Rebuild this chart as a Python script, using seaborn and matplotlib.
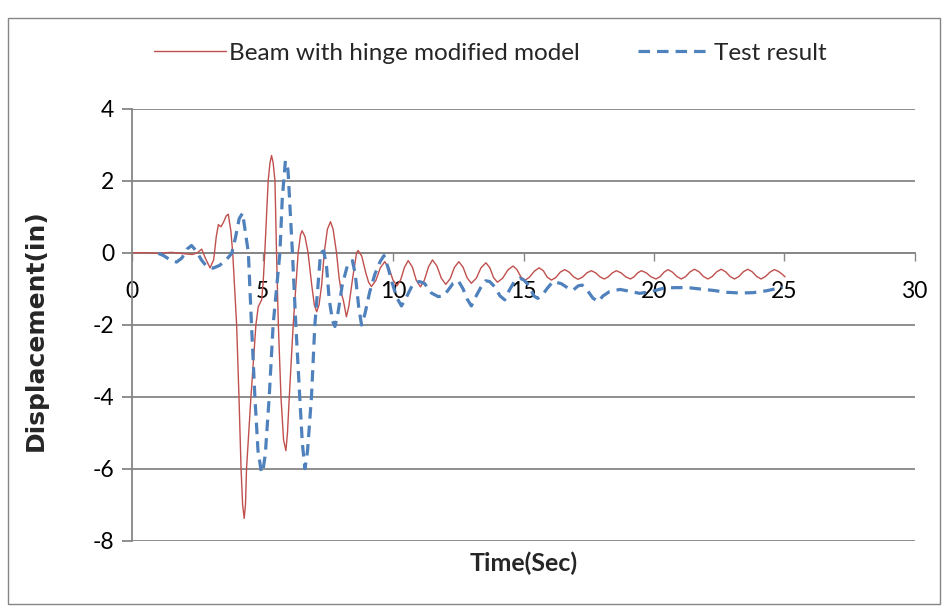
import matplotlib
matplotlib.use("Agg")
import matplotlib.pyplot as plt
import matplotlib.patches as mpatches
import seaborn as sns
import pandas as pd

# ---- data ----
red_t = [0.0, 0.5, 1.0, 1.5, 2.0, 2.3, 2.5, 2.66, 2.8, 2.98, 3.12, 3.22, 3.30, 3.40, 3.50, 3.60,
         3.68, 3.78, 3.85, 4.0, 4.09, 4.17, 4.23, 4.29, 4.34, 4.38, 4.55, 4.74, 4.83, 4.96, 5.02,
         5.08, 5.21, 5.28, 5.34, 5.40, 5.47, 5.53, 5.6, 5.70, 5.8, 5.89, 5.95, 6.02, 6.17, 6.36,
         6.45, 6.51, 6.62, 6.74, 6.88, 6.98, 7.07, 7.16, 7.26, 7.36, 7.48, 7.6, 7.7, 7.83, 7.93,
         8.02, 8.1, 8.21, 8.3, 8.45, 8.6, 8.66, 8.8, 8.95, 9.06, 9.17,
         9.34, 9.51, 9.68, 9.84, 9.99, 10.15, 10.29, 10.44, 10.58, 10.74, 10.89, 11.05, 11.2, 11.36,
         11.51, 11.68, 11.85, 12.02, 12.19, 12.35, 12.52, 12.68, 12.84, 13.0, 13.19, 13.37, 13.56,
         13.71, 13.85, 14.0, 14.2, 14.4, 14.6, 14.75, 14.9, 15.05, 15.23, 15.42, 15.6, 15.76, 15.91,
         16.07, 16.24, 16.41, 16.58, 16.75, 16.92, 17.09, 17.26, 17.43, 17.6, 17.77, 17.93, 18.1,
         18.25, 18.41, 18.56, 18.74, 18.92, 19.1, 19.24, 19.38, 19.52, 19.71, 19.89, 20.08, 20.23,
         20.39, 20.54, 20.71, 20.88, 21.05, 21.22, 21.39, 21.56, 21.73, 21.9, 22.07, 22.24, 22.41,
         22.58, 22.75, 22.92, 23.09, 23.26, 23.43, 23.6, 23.77, 23.94, 24.11, 24.28, 24.45, 24.62,
         24.78, 24.92, 25.03]
red_y = [0.0, 0.0, -0.02, 0.01, -0.03, -0.05, 0.0, 0.1, -0.15, -0.42, -0.2, 0.45, 0.78, 0.72, 0.85, 1.02,
         1.07, 0.6, 0.0, -2.0, -4.0, -6.0, -7.0, -7.38, -7.0, -6.0, -4.0, -2.0, -1.5, -1.31, -0.8,
         0.0, 2.0, 2.5, 2.7, 2.5, 2.0, 0.0, -2.0, -4.0, -5.2, -5.5, -5.0, -4.0, -2.0, 0.0,
         0.5, 0.61, 0.45, 0.0, -0.9, -1.45, -1.64, -1.45, -0.9, 0.0, 0.65, 0.86, 0.65, 0.0, -0.7,
         -1.13, -1.35, -1.78, -1.5, -0.7, 0.0, 0.06, -0.1, -0.55, -0.82, -0.94,
         -0.77, -0.42, -0.25, -0.42, -0.75, -0.92, -0.75, -0.4, -0.22, -0.4, -0.77, -0.95, -0.76, -0.39,
         -0.2, -0.37, -0.71, -0.88, -0.72, -0.41, -0.25, -0.4, -0.7, -0.85, -0.71, -0.42, -0.28,
         -0.42, -0.69, -0.82, -0.71, -0.48, -0.37, -0.47, -0.67, -0.77, -0.68, -0.51, -0.42, -0.5, -0.68,
         -0.76, -0.69, -0.54, -0.47, -0.54, -0.67, -0.74, -0.68, -0.56, -0.5, -0.56, -0.67, -0.73,
         -0.67, -0.56, -0.5, -0.56, -0.67, -0.73, -0.67, -0.56, -0.5, -0.56, -0.67, -0.73, -0.67,
         -0.54, -0.47, -0.54, -0.66, -0.73, -0.66, -0.53, -0.46, -0.53, -0.66, -0.73, -0.66, -0.53,
         -0.46, -0.53, -0.66, -0.73, -0.66, -0.53, -0.46, -0.53, -0.66, -0.73, -0.66, -0.54, -0.47,
         -0.52, -0.6, -0.67]

blue_t = [1.0, 1.2, 1.45, 1.7, 1.9, 2.1, 2.27, 2.45, 2.65, 2.85, 3.1, 3.35, 3.6, 3.81, 3.95, 4.1,
          4.23, 4.33, 4.45, 4.57, 4.70, 4.82, 4.95, 5.0, 5.1, 5.25, 5.4, 5.66, 5.75, 5.87, 5.97,
          6.14, 6.27, 6.42, 6.52, 6.62, 6.72, 6.87, 7.0, 7.22, 7.34, 7.45, 7.55, 7.68, 7.77, 7.88,
          8.05, 8.25, 8.44, 8.55, 8.68, 8.79, 8.92, 9.1, 9.3, 9.5, 9.65, 9.8, 9.95, 10.13, 10.32,
          10.5, 10.76, 11.0, 11.2, 11.47, 11.73, 11.92, 12.1, 12.3, 12.5, 12.68, 12.85, 13.0, 13.15,
          13.35, 13.55, 13.7, 13.9, 14.1, 14.28, 14.45, 14.65, 14.85, 15.0, 15.2, 15.4, 15.55, 15.75,
          15.9, 16.13, 16.45, 16.7, 16.9, 17.1, 17.25, 17.45, 17.66, 17.86, 18.05, 18.3, 18.7, 19.13,
          19.45, 19.9, 20.35, 20.8, 21.3, 21.8, 22.3, 22.8, 23.3, 23.8, 24.3, 24.94]
blue_y = [-0.02, -0.08, -0.2, -0.26, -0.15, 0.1, 0.2, 0.05, -0.2, -0.38, -0.43, -0.35, -0.2, -0.02, 0.4, 0.95,
          1.1, 0.6, 0.0, -2.0, -4.0, -5.5, -6.1, -6.1, -5.6, -4.0, -2.0, 0.0, 1.5, 2.55, 2.3,
          0.0, -2.0, -4.0, -5.3, -6.0, -5.5, -4.0, -2.0, 0.0, 0.05, -0.4, -1.3, -1.9, -2.05, -1.7,
          -0.9, -0.35, -0.22, -0.6, -1.5, -2.01, -1.7, -1.1, -0.6, -0.25, -0.08, -0.4, -0.8, -1.23, -1.48,
          -1.25, -0.87, -0.8, -0.85, -1.12, -1.22, -1.2, -1.05, -0.85, -0.78, -1.0, -1.3, -1.48, -1.25,
          -0.98, -0.78, -0.8, -0.95, -1.2, -1.31, -1.05, -0.8, -0.71, -0.75, -0.9, -1.2, -1.27, -1.15,
          -1.0, -0.8, -0.86, -0.98, -1.04, -0.92, -0.9, -1.05, -1.26, -1.36, -1.2, -1.08, -1.02, -1.08,
          -1.13, -1.08, -0.99, -0.97, -0.97, -1.01, -1.05, -1.1, -1.12, -1.11, -1.06, -0.96]

x_ticks = [0, 5, 10, 15, 20, 25, 30]
y_ticks = [-8, -6, -4, -2, 0, 2, 4]
red_label = "Beam with hinge modified model"
blue_label = "Test result"
x_label = "Time(Sec)"
y_label = "Displacement(in)"

# ---- styling ----
sns.set_theme(style="white")
plt.rcParams['font.family'] = ['Lato', 'DejaVu Sans']
GRID = "#868686"
RED = "#C0504D"
BLUE = "#4F81BD"

W, H = 947, 608
fig = plt.figure(figsize=(W / 100, H / 100), dpi=100)
ax = fig.add_axes([132.3 / W, 1 - 540.7 / H, (914.7 - 132.3) / W, (540.7 - 108.7) / H])

red_df = pd.DataFrame({"t": red_t, "y": red_y})
blue_df = pd.DataFrame({"t": blue_t, "y": blue_y})
sns.lineplot(data=red_df, x="t", y="y", ax=ax, color=RED, lw=1.0, sort=False,
             label=red_label, estimator=None)
sns.lineplot(data=blue_df, x="t", y="y", ax=ax, color=BLUE, lw=2.3, sort=False,
             label=blue_label, estimator=None, dashes=False)
ax.lines[-1].set_dashes((3.6, 2.2))

ax.set_xlim(0, 30)
ax.set_ylim(-8, 4)
ax.set_xticks(x_ticks)
ax.set_yticks(y_ticks)
ax.set_xticklabels([str(v) for v in x_ticks])
ax.set_yticklabels([str(v) for v in y_ticks])

for s in ["top", "right"]:
    ax.spines[s].set_visible(False)
ax.spines["left"].set_color(GRID)
ax.spines["left"].set_linewidth(1.3)
ax.spines["bottom"].set_position(("data", 0))
ax.spines["bottom"].set_color(GRID)
ax.spines["bottom"].set_linewidth(1.3)
ax.spines["bottom"].set_zorder(1)

ax.yaxis.grid(True, color=GRID, lw=1.3)
ax.xaxis.grid(False)
ax.set_axisbelow(True)
ax.tick_params(axis="x", direction="out", length=6, width=1.0, color=GRID,
               labelsize=16.5, pad=14.5, bottom=True)
ax.tick_params(axis="y", direction="out", length=7, width=1.3, color=GRID,
               labelsize=16.5, pad=6, left=True)
for lbl in ax.get_xticklabels() + ax.get_yticklabels():
    lbl.set_color("black")

ax.set_xlabel("")
ax.set_ylabel("")
fig.text(523.5 / W, 1 - 563 / H, x_label, ha="center", va="center",
         fontsize=18, fontweight="bold")
fig.text(36 / W, 1 - 330 / H, y_label, ha="center", va="center",
         rotation=90, fontsize=18, fontweight="bold", family=["DejaVu Sans"])

ax.get_legend().remove()
handles, labels = ax.get_legend_handles_labels()
leg = fig.legend(handles, labels, loc="center", ncol=2,
                 bbox_to_anchor=(490 / W, 1 - 53 / H), frameon=False,
                 fontsize=17.5, handlelength=2.95, columnspacing=2.4, handletextpad=0.15)

# chart-area border
fig.patches.append(mpatches.Rectangle((8 / W, 1 - 604 / H), (940 - 8) / W, (604 - 18) / H,
                                      transform=fig.transFigure, fill=False,
                                      edgecolor=GRID, lw=1.0))

fig.savefig("out.png", dpi=100, facecolor="white")
